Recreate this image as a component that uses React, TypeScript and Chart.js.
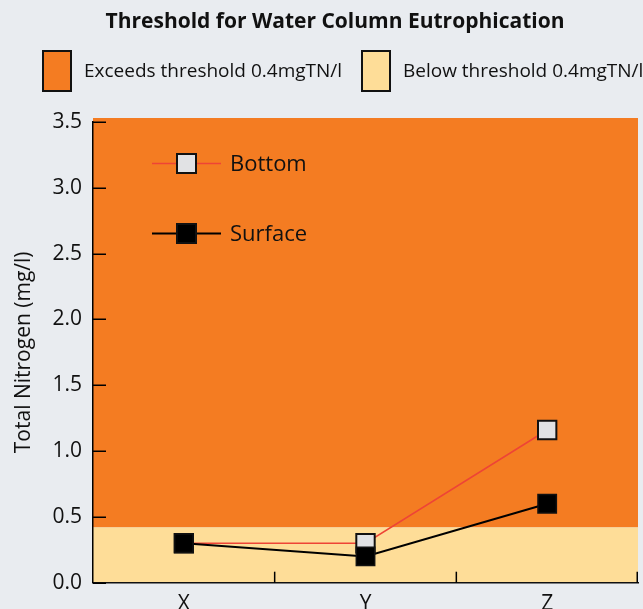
import React, { useEffect, useRef } from "react";
import { Chart, registerables } from "chart.js";

Chart.register(...registerables);

// ---- data ----
const categories = ["X", "Y", "Z"];
const bottomValues = [0.3, 0.3, 1.16];
const surfaceValues = [0.3, 0.2, 0.6];
const seriesNames = ["Bottom", "Surface"];
const yMin = 0;
const yMax = 3.5;
const yStep = 0.5;
const thresholdBand = 0.42;
const titleText = "Threshold for Water Column Eutrophication";
const thresholdLabels = ["Exceeds threshold 0.4mgTN/l", "Below threshold 0.4mgTN/l"];
const yAxisTitle = "Total Nitrogen (mg/l)";

// ---- styles ----
const FONT = "'Open Sans', 'Noto Sans', sans-serif";
const BG = "#e9ecf0";
const ORANGE = "#f47c22";
const LIGHT = "#fedd98";
const RED = "#ee4436";
const TEXT = "#111111";
const MARKER_LIGHT = "#e1e2e4";

const overlayPlugin = {
  id: "overlay",
  beforeDraw(chart: any) {
    const { ctx, chartArea } = chart;
    const y = chart.scales.y;
    ctx.save();
    ctx.fillStyle = BG;
    ctx.fillRect(0, 0, chart.width, chart.height);
    const top = y.getPixelForValue(yMax) - 4;
    const mid = y.getPixelForValue(thresholdBand);
    const bot = y.getPixelForValue(yMin);
    const w = chartArea.right - chartArea.left;
    ctx.fillStyle = ORANGE;
    ctx.fillRect(chartArea.left, top, w, mid - top);
    ctx.fillStyle = LIGHT;
    ctx.fillRect(chartArea.left, mid, w, bot - mid);
    ctx.restore();
  },
  beforeDatasetsDraw(chart: any) {
    const { ctx, chartArea } = chart;
    const y = chart.scales.y;
    const x = chart.scales.x;
    ctx.save();
    ctx.strokeStyle = "#000";
    ctx.lineWidth = 1.5;
    y.ticks.forEach((_t: any, i: number) => {
      const py = Math.round(y.getPixelForTick(i)) + 0.25;
      ctx.beginPath();
      ctx.moveTo(chartArea.left, py);
      ctx.lineTo(chartArea.left + 13, py);
      ctx.stroke();
    });
    const n = categories.length;
    for (let i = 0; i < n; i++) {
      let px: number;
      if (i < n - 1) {
        px = (x.getPixelForValue(i) + x.getPixelForValue(i + 1)) / 2;
      } else {
        px = chartArea.right - 0.75;
      }
      ctx.beginPath();
      ctx.moveTo(px, chartArea.bottom);
      ctx.lineTo(px, chartArea.bottom - 11);
      ctx.stroke();
    }
    ctx.restore();
  },
  afterDraw(chart: any) {
    const { ctx } = chart;
    ctx.save();
    ctx.fillStyle = TEXT;
    ctx.font = `bold 21px ${FONT}`;
    ctx.textAlign = "center";
    ctx.textBaseline = "middle";
    ctx.fillText(titleText, 335, 22);

    const boxes = [
      { x: 43, fill: ORANGE, tx: 84 },
      { x: 362, fill: LIGHT, tx: 403 },
    ];
    ctx.font = `19px ${FONT}`;
    ctx.textAlign = "left";
    boxes.forEach((b, i) => {
      ctx.fillStyle = b.fill;
      ctx.fillRect(b.x, 51, 28, 40);
      ctx.strokeStyle = "#111";
      ctx.lineWidth = 2;
      ctx.strokeRect(b.x, 51, 28, 40);
      ctx.fillStyle = TEXT;
      ctx.fillText(thresholdLabels[i], b.tx, 72);
    });

    const rows = [
      { y: 163.5, line: RED, lw: 1.5, fill: MARKER_LIGHT },
      { y: 233.5, line: "#000", lw: 2, fill: "#000" },
    ];
    rows.forEach((r, i) => {
      ctx.strokeStyle = r.line;
      ctx.lineWidth = r.lw;
      ctx.beginPath();
      ctx.moveTo(152, r.y);
      ctx.lineTo(221, r.y);
      ctx.stroke();
      ctx.fillStyle = r.fill;
      ctx.fillRect(177, r.y - 9.5, 19, 19);
      ctx.strokeStyle = "#111";
      ctx.lineWidth = 2;
      ctx.strokeRect(177, r.y - 9.5, 19, 19);
      ctx.fillStyle = TEXT;
      ctx.font = `22px ${FONT}`;
      ctx.textAlign = "left";
      ctx.textBaseline = "middle";
      ctx.fillText(seriesNames[i], 230, r.y + 1);
    });
    ctx.restore();
  },
};

export default function App() {
  const canvasRef = useRef<HTMLCanvasElement | null>(null);

  useEffect(() => {
    const canvas = canvasRef.current;
    if (!canvas) return;
    const chart = new Chart(canvas, {
      type: "line",
      data: {
        labels: categories,
        datasets: [
          {
            label: seriesNames[1],
            data: surfaceValues,
            borderColor: "#000",
            borderWidth: 2,
            pointStyle: "rect",
            pointRadius: 13,
            pointHoverRadius: 13,
            pointBackgroundColor: "#000",
            pointBorderColor: "#111",
            pointBorderWidth: 1.5,
            tension: 0,
          },
          {
            label: seriesNames[0],
            data: bottomValues,
            borderColor: RED,
            borderWidth: 1.5,
            pointStyle: "rect",
            pointRadius: 13,
            pointHoverRadius: 13,
            pointBackgroundColor: MARKER_LIGHT,
            pointBorderColor: "#111",
            pointBorderWidth: 2,
            tension: 0,
          },
        ],
      },
      options: {
        animation: false,
        responsive: false,
        maintainAspectRatio: false,
        layout: { autoPadding: false, padding: { top: 122, left: 0, right: 5, bottom: 0 } },
        plugins: {
          legend: { display: false },
          title: { display: false },
          tooltip: { enabled: false },
        },
        scales: {
          x: {
            type: "category",
            offset: true,
            grid: { display: false, drawTicks: false },
            border: { display: true, color: "#111", width: 1.5 },
            ticks: {
              color: TEXT,
              font: { family: FONT, size: 21 },
              padding: 9,
            },
            afterFit(scale: any) {
              scale.height = 26.3;
              scale.paddingLeft = 0;
              scale.paddingRight = 0;
            },
          },
          y: {
            min: yMin,
            max: yMax,
            grid: { display: false, drawTicks: false },
            border: { display: true, color: "#000", width: 1.5 },
            ticks: {
              stepSize: yStep,
              color: TEXT,
              font: { family: FONT, size: 21 },
              padding: 11,
              callback: (v: any) => Number(v).toFixed(1),
            },
            title: {
              display: true,
              text: yAxisTitle,
              color: TEXT,
              font: { family: FONT, size: 21 },
              padding: { top: 11, bottom: 0 },
            },
            afterFit(scale: any) {
              scale.width = 93;
            },
          },
        },
      },
      plugins: [overlayPlugin],
    });
    return () => chart.destroy();
  }, []);

  return (
    <div
      style={{
        position: "fixed",
        left: 0,
        top: 0,
        width: 643,
        height: 609,
        overflow: "hidden",
        background: BG,
      }}
    >
      <canvas ref={canvasRef} width={643} height={609} style={{ display: "block", width: 643, height: 609 }} />
    </div>
  );
}
